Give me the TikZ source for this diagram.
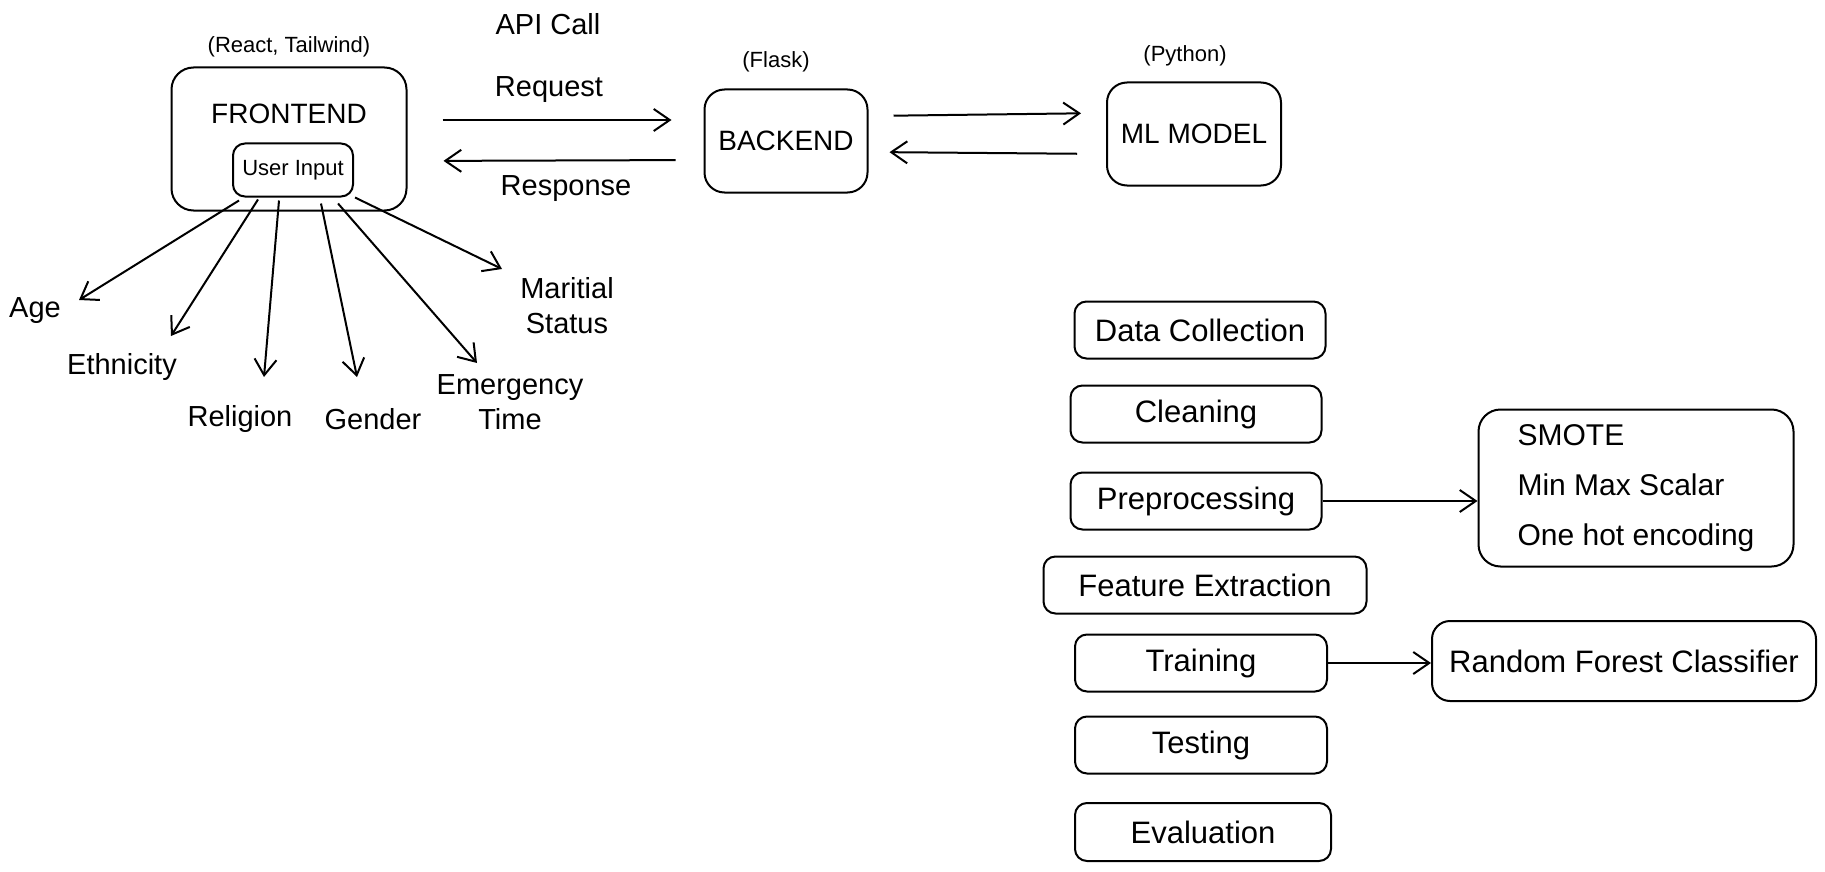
\documentclass[tikz,border=0pt]{standalone}
\usepackage{fontspec}
\setmainfont{Liberation Sans}
\usetikzlibrary{arrows.meta}

\begin{document}
\begin{tikzpicture}[x=1pt, y=-1pt, line width=2pt,
  every node/.style={inner sep=0pt, align=center},
  box/.style={draw, rounded corners=12pt, font=\fontsize{31}{37}\selectfont},
  title/.style={font=\fontsize{28}{34}\selectfont},
  small/.style={font=\fontsize{22}{26}\selectfont},
  field/.style={font=\fontsize{29}{35}\selectfont},
  arr/.style={-{Straight Barb[length=16pt,width=22pt]}}]
  \useasboundingbox (0,0) rectangle (1825,872);

  \node (frontend) [box, minimum width=235pt, minimum height=143pt, rounded corners=22pt,
    label={[title, anchor=center, label distance=-47pt]north:FRONTEND}] at (289,139) {};
  \node (ui) [box, small, minimum width=120pt, minimum height=53pt] at (293,170) {User Input};
  \node (backend) [box, title, minimum width=163pt, minimum height=103pt, rounded corners=20pt] at (786,141) {BACKEND};
  \node (model) [box, title, minimum width=174pt, minimum height=103pt, rounded corners=20pt] at (1194,134) {ML MODEL};

  \node (react) [small] at (289,47) {(React, Tailwind)};
  \node (flask) [small] at (776,62) {(Flask)};
  \node (python) [small] at (1185,56) {(Python)};
  \node (apicall) [field] at (548,24) {API Call};
  \node (request) [field] at (549,90) {Request};
  \node (response) [field] at (566,189) {Response};

  \node (age) [field] at (35,311) {Age};
  \node (ethnicity) [field] at (122,367) {Ethnicity};
  \node (religion) [field] at (240,419) {Religion};
  \node (gender) [field] at (373,419) {Gender};
  \node (emergency) [field] at (510,402) {Emergency\\Time};
  \node (marital) [field] at (567,306) {Maritial\\Status};

  \node (collection) [box, minimum width=251pt, minimum height=57pt] at (1200,330) {Data Collection};
  \node (cleaning) [box, minimum width=251pt, minimum height=57pt] at (1196,414) {Cleaning};
  \node (preproc) [box, minimum width=251pt, minimum height=57pt] at (1196,501) {Preprocessing};
  \node (features) [box, minimum width=323pt, minimum height=57pt] at (1205,585) {Feature Extraction};
  \node (training) [box, minimum width=252pt, minimum height=57pt] at (1201,663) {Training};
  \node (testing) [box, minimum width=252pt, minimum height=57pt] at (1201,745) {Testing};
  \node (evaluation) [box, minimum width=256pt, minimum height=58pt] at (1203,832) {Evaluation};

  \node (smote) [box, rounded corners=22pt, align=left, minimum width=315pt,
    minimum height=157pt, font=\fontsize{30}{50}\selectfont] at (1636,488) {SMOTE\\Min Max Scalar\\One hot encoding};
  \node (forest) [box, minimum width=384pt, minimum height=80pt, rounded corners=18pt] at (1624,661) {Random Forest Classifier};

  \draw[arr, shorten <=35pt, shorten >=32pt] ([yshift=19pt]frontend.east) -- ([yshift=21pt]backend.west);
  \draw[arr, shorten <=28pt, shorten >=36pt] ([yshift=-19pt]backend.west) -- ([yshift=-22pt]frontend.east);
  \draw[arr, shorten <=25pt, shorten >=25pt] ([yshift=25pt]backend.east) -- ([yshift=21pt]model.west);
  \draw[arr, shorten <=29pt, shorten >=21pt] ([yshift=-20pt]model.west) -- ([yshift=-11pt]backend.east);

  \draw[arr] ([shift={(-54,3)}]ui.south) -- ([shift={(44,-11)}]age.center);
  \draw[arr] ([shift={(-35,2)}]ui.south) -- ([shift={(49,-31)}]ethnicity.center);
  \draw[arr] ([shift={(-14,3)}]ui.south) -- ([shift={(24,-42)}]religion.center);
  \draw[arr] ([shift={(28,6)}]ui.south) -- ([shift={(-16,-42)}]gender.center);
  \draw[arr] ([shift={(45,6)}]ui.south) -- ([shift={(-33,-39)}]emergency.center);
  \draw[arr] ([shift={(62,0)}]ui.south) -- ([shift={(-65,-37)}]marital.center);

  \draw[arr] (preproc.east) -- (preproc.east -| smote.west);
  \draw[arr] (training.east) -- (training.east -| forest.west);
\end{tikzpicture}
\end{document}
